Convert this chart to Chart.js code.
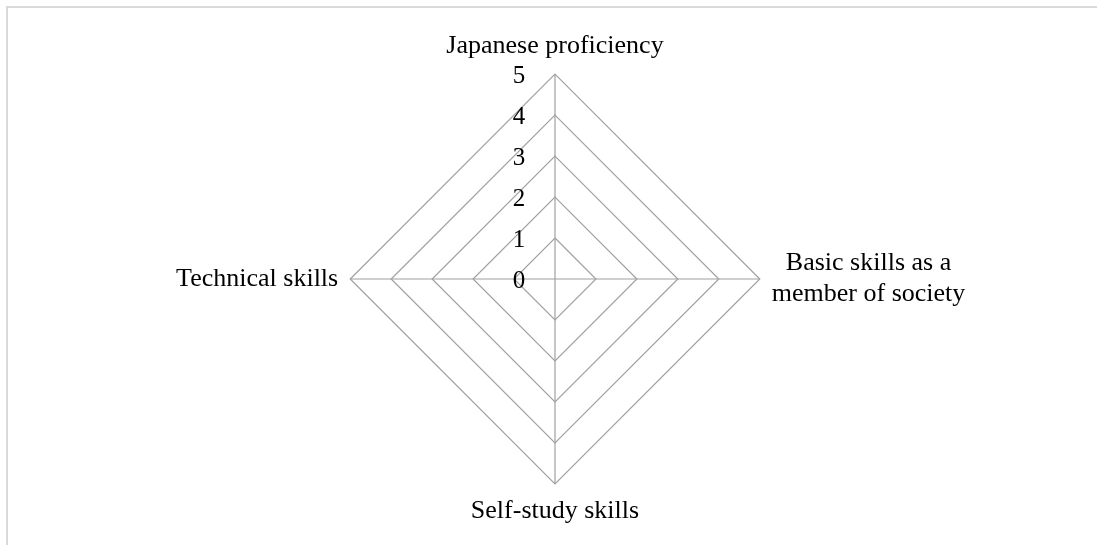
<!DOCTYPE html>
<html>
<head>
<meta charset="utf-8">
<script src="https://cdn.jsdelivr.net/npm/chart.js@4"></script>
<style>
    html, body { margin: 0; padding: 0; background: #ffffff; }
    #frame {
        position: absolute; left: 6px; top: 6px; width: 1091px; height: 539px;
        border-top: 2px solid #d9d9d9; border-left: 2px solid #d9d9d9;
        box-sizing: border-box;
    }
    #wrap { position: absolute; left: 0; top: 0; width: 1097px; height: 545px; }
</style>
</head>
<body>
<div id="frame"></div>
<div id="wrap"><canvas id="skillRadar"></canvas></div>
<script>
    // 軸ラベル・値・目盛り
    const categories = [
        'Japanese proficiency',
        ['Basic skills as a', 'member of society'],
        'Self-study skills',
        'Technical skills'
    ];
    const seriesValues = [0, 0, 0, 0];
    const tickLabels = ['0', '1', '2', '3', '4', '5'];

    const serif = '"Liberation Serif", "Times New Roman", serif';

    // 目盛りの数字を軸の左側に、軸ラベルを中央揃えで描く
    const labelPlugin = {
        id: 'labelPlugin',
        afterDraw(chart) {
            const scale = chart.scales.r;
            const ctx = chart.ctx;
            ctx.save();
            ctx.fillStyle = '#000000';
            ctx.textAlign = 'center';
            ctx.textBaseline = 'middle';

            ctx.font = '25px ' + serif;
            tickLabels.forEach(t => {
                const d = scale.getDistanceFromCenterForValue(Number(t));
                ctx.fillText(t, scale.xCenter - 36, scale.yCenter - d + 2);
            });

            // ラベル枠の中で行ごとに中央揃え
            ctx.font = '26px ' + serif;
            const lineH = 31;
            categories.forEach((lab, i) => {
                const box = scale.getPointLabelPosition(i);
                const lines = Array.isArray(lab) ? lab : [lab];
                const cx = (box.left + box.right) / 2;
                const top = (box.top + box.bottom) / 2 - lines.length * lineH / 2;
                lines.forEach((ln, k) => {
                    ctx.fillText(ln, cx, top + lineH * (k + 0.5));
                });
            });
            ctx.restore();
        }
    };

    const ctx = document.getElementById('skillRadar').getContext('2d');
    new Chart(ctx, {
        type: 'radar',
        data: {
            labels: categories,
            datasets: [{
                label: 'skills',
                data: seriesValues,
                borderColor: 'rgba(160,160,160,1)',
                borderWidth: 1,
                backgroundColor: 'rgba(0,0,0,0)',
                pointRadius: 0
            }]
        },
        options: {
            responsive: true,
            maintainAspectRatio: false,
            animation: false,
            layout: { padding: { top: 31, bottom: 17, left: 14, right: 0 } },
            plugins: {
                legend: { display: false },
                tooltip: { enabled: false }
            },
            scales: {
                r: {
                    min: 0,
                    max: 5,
                    ticks: { stepSize: 1, display: false },
                    grid: { color: '#a0a0a0', lineWidth: 1.2 },
                    angleLines: { color: '#a0a0a0', lineWidth: 1.2 },
                    pointLabels: {
                        font: { family: serif, size: 26 },
                        color: 'rgba(0,0,0,0)',
                        padding: 12
                    }
                }
            }
        },
        plugins: [labelPlugin]
    });
</script>
</body>
</html>
